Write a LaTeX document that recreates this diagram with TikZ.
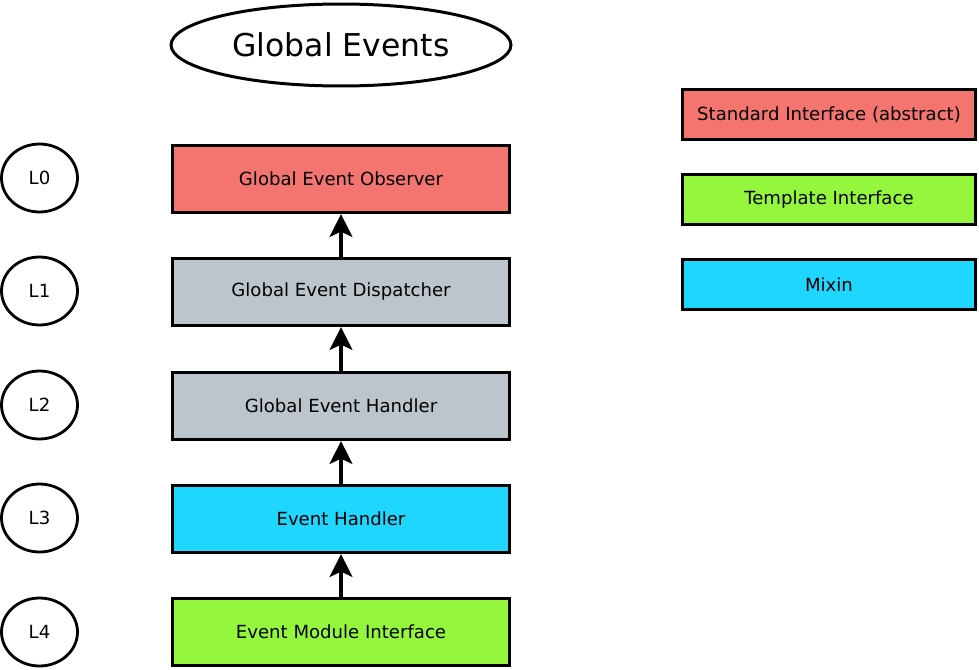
\documentclass[tikz,border=0pt]{standalone}
\usepackage{fontspec}
\setmainfont{DejaVu Sans}
\usetikzlibrary{shapes.geometric,arrows.meta}

\definecolor{abstractred}{HTML}{F4756F}
\definecolor{coregray}{HTML}{BCC5CB}
\definecolor{mixincyan}{HTML}{1FD6FF}
\definecolor{templategreen}{HTML}{95F73D}

\begin{document}
\begin{tikzpicture}[x=0.02cm, y=-0.02cm,
    layer/.style={draw, line width=1.8pt, minimum width=6.74cm, minimum height=1.34cm,
        inner sep=0pt, font=\fontsize{10.3}{12}\selectfont},
    legend/.style={draw, line width=1.8pt, minimum width=5.86cm, minimum height=1.0cm,
        inner sep=0pt, font=\fontsize{10.3}{12}\selectfont},
    level/.style={draw, ellipse, line width=1.6pt, minimum width=1.52cm, minimum height=1.36cm,
        inner sep=0pt, font=\fontsize{10.3}{12}\selectfont},
    up/.style={line width=1.8pt, -{Stealth[length=13pt, width=13pt, inset=3pt]}}]
    \useasboundingbox (0, 0) rectangle (979, 669);

    \node [draw, ellipse, line width=1.7pt, minimum width=6.8cm, minimum height=1.64cm,
        inner sep=0pt, font=\fontsize{17.9}{21}\selectfont] (title) at (341, 45) {Global Events};

    \node [layer, fill=abstractred] (observer) at (341, 179) {Global Event Observer};
    \node [layer, fill=coregray] (dispatcher) at (341, 292) {Global Event Dispatcher};
    \node [layer, fill=coregray] (ghandler) at (341, 406) {Global Event Handler};
    \node [layer, fill=mixincyan] (handler) at (341, 519) {Event Handler};
    \node [layer, fill=templategreen] (module) at (341, 632) {Event Module Interface};

    \node [level] (L0) at (39.5, 178) {L0};
    \node [level] (L1) at (39.5, 291) {L1};
    \node [level] (L2) at (39.5, 405) {L2};
    \node [level] (L3) at (39.5, 518) {L3};
    \node [level] (L4) at (39.5, 632) {L4};

    \draw [up] (dispatcher) -- (observer);
    \draw [up] (ghandler) -- (dispatcher);
    \draw [up] (handler) -- (ghandler);
    \draw [up] (module) -- (handler);

    \node [legend, fill=abstractred] (standard) at (829, 114.5) {Standard Interface (abstract)};
    \node [legend, fill=templategreen] (template) at (829, 199.5) {Template Interface};
    \node [legend, fill=mixincyan] (mixin) at (829, 284.5) {Mixin};
\end{tikzpicture}
\end{document}
